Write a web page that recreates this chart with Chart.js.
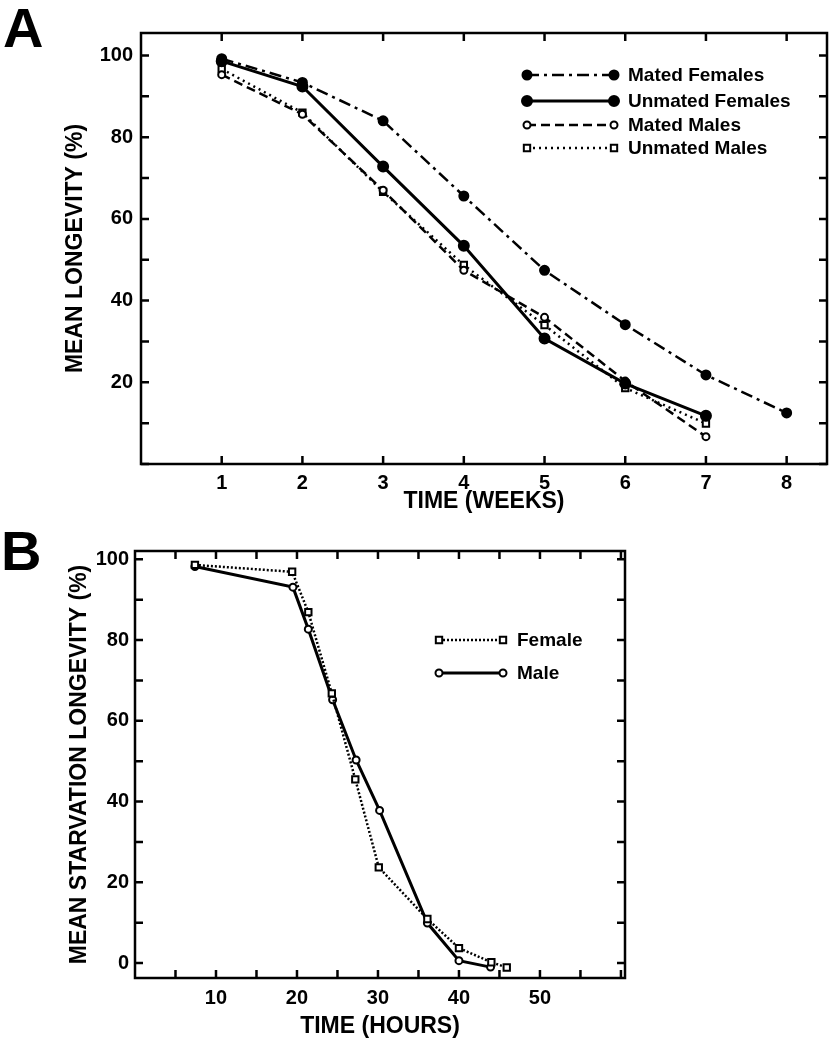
<!DOCTYPE html>
<html>
<head>
<meta charset="utf-8">
<title>Mean longevity</title>
<script src="https://cdn.jsdelivr.net/npm/chart.js@4.4.0/dist/chart.umd.min.js"></script>
<style>
    body { margin: 0; background: #fff; width: 834px; height: 1039px; position: relative; overflow: hidden; font-family: "Liberation Sans", Arial, sans-serif; }
    canvas { position: absolute; left: 0; }
    .panel { position: absolute; font-weight: bold; font-size: 56px; line-height: 56px; color: #000; }
</style>
</head>
<body>
<canvas id="chartA" width="834" height="525" style="top:0"></canvas>
<canvas id="chartB" width="834" height="521" style="top:520px"></canvas>
<div class="panel" style="left:3px;top:0">A</div>
<div class="panel" style="left:1px;top:523px">B</div>
<script>
// Panel A - adult longevity by week
const weeks = [1, 2, 3, 4, 5, 6, 7, 8];
const matedFemales = [99.2, 93.4, 84.0, 65.6, 47.4, 34.1, 21.8, 12.5];
const unmatedFemales = [98.6, 92.4, 72.8, 53.4, 30.7, 19.7, 11.8];
const matedMales = [95.3, 85.6, 67.0, 47.4, 35.9, 20.3, 6.7];
const unmatedMales = [96.7, 86.0, 66.6, 48.7, 34.0, 18.6, 9.9];
const namesA = ['Mated Females', 'Unmated Females', 'Mated Males', 'Unmated Males'];
const weekTicks = [1, 2, 3, 4, 5, 6, 7, 8];
const longevityTicks = [0, 10, 20, 30, 40, 50, 60, 70, 80, 90, 100];

// Panel B - starvation longevity by hour
const femaleHours = [7.4, 19.4, 21.4, 24.3, 27.2, 30.1, 36.1, 40.0, 44.0, 45.9];
const femaleStarvation = [98.6, 96.9, 86.9, 66.8, 45.5, 23.7, 10.9, 3.7, 0.2, -1.1];
const maleHours = [7.4, 19.5, 21.4, 24.4, 27.3, 30.2, 36.1, 40.0, 43.9];
const maleStarvation = [98.2, 93.1, 82.7, 65.2, 50.3, 37.8, 9.9, 0.6, -1.0];
const namesB = ['Female', 'Male'];
const hourTicks = [5, 10, 15, 20, 25, 30, 35, 40, 45, 50, 55, 60];
const starvationTicks = [0, 10, 20, 30, 40, 50, 60, 70, 80, 90, 100];

Chart.defaults.font.family = '"Liberation Sans", Arial, sans-serif';
Chart.defaults.color = '#000';

const tickFont = { size: 20, weight: 'bold' };
const titleFont = { size: 23, weight: 'bold' };

function pairs(xs, ys) {
    return ys.map((y, i) => ({ x: xs[i], y: y }));
}

// box around the plot with inward ticks on all four sides
const frameTicks = {
    id: 'frameTicks',
    afterDatasetsDraw(chart, args, opts) {
        const { ctx, chartArea: a, scales: { x, y } } = chart;
        ctx.save();
        ctx.strokeStyle = '#000';
        ctx.lineWidth = opts.width;
        ctx.strokeRect(a.left, a.top, a.right - a.left, a.bottom - a.top);
        ctx.beginPath();
        x.ticks.forEach(t => {
            const p = x.getPixelForValue(t.value);
            ctx.moveTo(p, a.bottom); ctx.lineTo(p, a.bottom - opts.len);
            ctx.moveTo(p, a.top); ctx.lineTo(p, a.top + opts.len);
        });
        y.ticks.forEach(t => {
            const p = y.getPixelForValue(t.value);
            ctx.moveTo(a.left, p); ctx.lineTo(a.left + opts.len, p);
            ctx.moveTo(a.right, p); ctx.lineTo(a.right - opts.len, p);
        });
        ctx.stroke();
        ctx.restore();
    }
};

// legend rows: line sample with a marker at each end, then the label
const pairLegend = {
    id: 'pairLegend',
    afterDraw(chart, args, opts) {
        const ctx = chart.ctx;
        ctx.save();
        chart.data.datasets.forEach((ds, i) => {
            const y = opts.rows[i];
            ctx.strokeStyle = '#000';
            ctx.lineWidth = ds.borderWidth;
            ctx.setLineDash(ds.borderDash || []);
            ctx.beginPath();
            ctx.moveTo(opts.x0, y);
            ctx.lineTo(opts.x1, y);
            ctx.stroke();
            ctx.setLineDash([]);
            const pt = { pointStyle: ds.pointStyle, radius: ds.pointRadius, rotation: 0, borderWidth: ds.pointBorderWidth };
            ctx.fillStyle = ds.pointBackgroundColor;
            ctx.lineWidth = ds.pointBorderWidth;
            [opts.x0, opts.x1].forEach(px => Chart.helpers.drawPoint(ctx, pt, px, y));
            ctx.fillStyle = '#000';
            ctx.font = 'bold 19px "Liberation Sans", Arial, sans-serif';
            ctx.textBaseline = 'middle';
            ctx.fillText(ds.label, opts.textX, y + 1);
        });
        ctx.restore();
    }
};

function series(label, data, style) {
    return Object.assign({
        label: label,
        data: data,
        borderColor: '#000',
        pointBorderColor: '#000',
        pointBorderWidth: 2,
        tension: 0,
        fill: false
    }, style);
}

function buildChart(id, datasets, cfg) {
    return new Chart(document.getElementById(id), {
        type: 'line',
        data: { datasets: datasets },
        options: {
            responsive: false,
            animation: false,
            devicePixelRatio: 1,
            layout: { padding: cfg.padding },
            plugins: {
                legend: { display: false },
                tooltip: { enabled: false },
                frameTicks: { len: 8, width: 2.5 },
                pairLegend: cfg.legend
            },
            scales: {
                x: {
                    type: 'linear',
                    min: cfg.xMin,
                    max: cfg.xMax,
                    grid: { display: false, drawTicks: false },
                    border: { display: false },
                    afterBuildTicks: s => { s.ticks = cfg.xTicks.map(v => ({ value: v })); },
                    afterFit: s => { s.height = cfg.xHeight; },
                    ticks: { padding: cfg.xTickPad, font: tickFont, color: '#000', maxRotation: 0, autoSkip: false, callback: cfg.xLabel },
                    title: { display: true, text: cfg.xTitle, font: titleFont, color: '#000', padding: { top: 0, bottom: cfg.xTitlePad } }
                },
                y: {
                    type: 'linear',
                    min: cfg.yMin,
                    max: cfg.yMax,
                    grid: { display: false, drawTicks: false },
                    border: { display: false },
                    afterBuildTicks: s => { s.ticks = cfg.yTicks.map(v => ({ value: v })); },
                    afterFit: s => { s.width = cfg.yWidth; },
                    ticks: { padding: cfg.yTickPad, font: tickFont, color: '#000', autoSkip: false, callback: cfg.yLabel },
                    title: { display: true, text: cfg.yTitle, font: titleFont, color: '#000', padding: { top: cfg.yTitlePad, bottom: 0 } }
                }
            }
        },
        plugins: [frameTicks, pairLegend]
    });
}

buildChart('chartA', [
    series(namesA[0], pairs(weeks, matedFemales), { borderWidth: 2.5, borderDash: [12, 5, 3, 5], pointStyle: 'circle', pointRadius: 4.5, pointBackgroundColor: '#000' }),
    series(namesA[1], pairs(weeks, unmatedFemales), { borderWidth: 3, borderDash: [], pointStyle: 'circle', pointRadius: 5, pointBackgroundColor: '#000' }),
    series(namesA[2], pairs(weeks, matedMales), { borderWidth: 2.5, borderDash: [9, 5], pointStyle: 'circle', pointRadius: 3.5, pointBackgroundColor: '#fff' }),
    series(namesA[3], pairs(weeks, unmatedMales), { borderWidth: 2.5, borderDash: [2, 4], pointStyle: 'rect', pointRadius: 4.5, pointBackgroundColor: '#fff' })
], {
    padding: { left: 0, top: 33, right: 4, bottom: 0 },
    xMin: 0, xMax: 8.5, xTicks: weekTicks, xHeight: 61, xTickPad: 7, xTitlePad: 9.5,
    xLabel: v => (v >= 1 ? String(v) : ''),
    xTitle: 'TIME (WEEKS)',
    yMin: 0, yMax: 105.5, yTicks: longevityTicks, yWidth: 141, yTickPad: 8, yTitlePad: 62,
    yLabel: v => (v > 0 && v % 20 === 0 ? String(v) : ''),
    yTitle: 'MEAN LONGEVITY (%)',
    legend: { x0: 527, x1: 614, textX: 628, rows: [75, 101, 125, 148] }
});

buildChart('chartB', [
    series(namesB[0], pairs(femaleHours, femaleStarvation), { borderWidth: 2.5, borderDash: [2, 2], pointStyle: 'rect', pointRadius: 4.5, pointBackgroundColor: '#fff' }),
    series(namesB[1], pairs(maleHours, maleStarvation), { borderWidth: 3, borderDash: [], pointStyle: 'circle', pointRadius: 3.5, pointBackgroundColor: '#fff' })
], {
    padding: { left: 0, top: 31, right: 209, bottom: 0 },
    xMin: 0, xMax: 60.5, xTicks: hourTicks, xHeight: 63, xTickPad: 8, xTitlePad: 0.5,
    xLabel: v => (v % 10 === 0 && v < 60 ? String(v) : ''),
    xTitle: 'TIME (HOURS)',
    yMin: -3.7, yMax: 102.05, yTicks: starvationTicks, yWidth: 135, yTickPad: 6, yTitlePad: 66,
    yLabel: v => (v % 20 === 0 ? String(v) : ''),
    yTitle: 'MEAN STARVATION LONGEVITY (%)',
    legend: { x0: 439, x1: 503, textX: 517, rows: [120, 153] }
});
</script>
</body>
</html>
